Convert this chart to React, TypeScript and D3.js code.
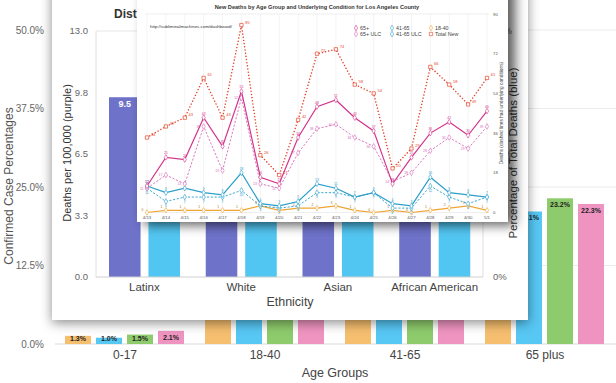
import React from "react";
import * as d3 from "d3";

// ---------- Background chart: confirmed case percentages by age ----------
const ageGroups = ["0-17", "18-40", "41-65", "65 plus"];
const ageKeys = ["a", "b", "c", "d"];
const ageSeriesA = [1.3, 36.0, 42.5, 20.2];
const ageSeriesB = [1.0, 37.4, 40.5, 21.1];
const ageSeriesC = [1.5, 33.6, 41.7, 23.2];
const ageSeriesD = [2.1, 35.2, 40.4, 22.3];
const ageTicks = [0, 12.5, 25, 37.5, 50];

// ---------- Middle card: deaths by ethnicity ----------
const ethnicities = ["Latinx", "White", "Asian", "African American"];
const deathsPer100k = [9.5, 5.1, 5.6, 10.9];
const pctTotalDeaths = [38, 28, 17, 13];
const ethTicks = [0, 3.25, 6.5, 9.75, 13];
const ethTickLabels = ["0.0", "3.3", "6.5", "9.8", "13.0"];
const pctTicks = [0, 25, 50];

// ---------- Top card: new deaths line chart ----------
const dates = ["4/13", "4/14", "4/15", "4/16", "4/17", "4/18", "4/19", "4/20", "4/21", "4/22", "4/23", "4/24", "4/25", "4/26", "4/27", "4/28", "4/29", "4/30", "5/1"];
const totalNew = [34, 39, 43, 61, 43, 85, 26, 17, 42, 72, 74, 58, 54, 20, 29, 66, 58, 49, 61];
const over65 = [12, 25, 24, 43, 30, 55, 16, 13, 34, 48, 51, 43, 37, 13, 25, 36, 41, 35, 46];
const over65ULC = [11, 17, 13, 39, 19, 52, 13, 11, 27, 38, 40, 34, 30, 14, 18, 28, 34, 29, 39];
const age41to65 = [12, 9, 11, 9, 8, 18, 4, 3, 5, 13, 11, 7, 9, 4, 3, 16, 9, 8, 7];
const age41to65ULC = [11, 5, 7, 7, 7, 10, 3, 2, 3, 9, 9, 7, 9, 2, 2, 12, 7, 4, 7];
const age18to40 = [0, 1, 1, 1, 1, 1, 3, 1, 2, 2, 3, 1, 0, 1, 0, 1, 2, 3, 1];
const lineTicks = [0, 18, 36, 54, 72, 90];

const FONT = "'Liberation Sans', Arial, sans-serif";

export default function App() {
  const x0 = d3.scaleBand<string>().domain(ageGroups).range([55, 615]);
  const x1 = d3.scaleBand<string>().domain(ageKeys).range([0, 119]).paddingInner(0.161);
  const yAge = d3.scaleLinear().domain([0, 50]).range([344, 30]);
  const ageSeries = [ageSeriesA, ageSeriesB, ageSeriesC, ageSeriesD];
  const ageColors = ["#f6be6f", "#57c7f4", "#8ecb6c", "#ef94c0"];

  const xe = d3.scaleBand<string>().domain(ethnicities).range([96, 483]);
  const xe1 = d3.scaleBand<string>().domain(["p", "b"]).range([13, 84]).paddingInner(0.2);
  const ye = d3.scaleLinear().domain([0, 13]).range([277, 31]);
  const yp = d3.scaleLinear().domain([0, 50]).range([277, 31]);

  const xl = d3.scalePoint<string>().domain(dates).range([147, 487]);
  const yl = d3.scaleLinear().domain([0, 90]).range([212.5, 14]);
  const line = d3.line<number>().x((_, i) => xl(dates[i]) as number).y((v) => yl(v));

  const series = [
    { name: "18-40", data: age18to40, color: "#f0a534", dash: "", lab: "#a07020", dx: -3.5, dy: -2, anchor: "end" },
    { name: "41-65 ULC", data: age41to65ULC, color: "#2b9fcb", dash: "2.2,1.6", lab: "#2b9fcb", dx: 0, dy: 5.5, anchor: "middle" },
    { name: "41-65", data: age41to65, color: "#2b9fcb", dash: "", lab: "#2b9fcb", dx: 0, dy: -3, anchor: "middle" },
    { name: "65+ ULC", data: over65ULC, color: "#d66bb8", dash: "2.2,1.6", lab: "#d66bb8", dx: -3.5, dy: 1.3, anchor: "end" },
    { name: "65+", data: over65, color: "#d4358c", dash: "", lab: "#d4358c", dx: 0, dy: -3, anchor: "middle" },
  ];
  const diamond = d3.symbol().type(d3.symbolDiamond).size(9)() as string;
  const square = d3.symbol().type(d3.symbolSquare).size(11)() as string;

  const legend = [
    { name: "65+", color: "#d4358c", sym: diamond, col: 0, row: 0 },
    { name: "65+ ULC", color: "#d66bb8", sym: diamond, col: 0, row: 1 },
    { name: "41-65", color: "#2b9fcb", sym: diamond, col: 1, row: 0 },
    { name: "41-65 ULC", color: "#2b9fcb", sym: diamond, col: 1, row: 1 },
    { name: "18-40", color: "#f0a534", sym: diamond, col: 2, row: 0 },
    { name: "Total New", color: "#e5432b", sym: square, col: 2, row: 1 },
  ];
  const legendX = [356, 392, 431];

  return (
    <svg width={616} height={383} style={{ position: "absolute", left: 0, top: 0, background: "#fff", fontFamily: FONT }}>
      <defs>
        <filter id="shMid" x="-10%" y="-10%" width="125%" height="125%">
          <feDropShadow dx="0" dy="3" stdDeviation="6" floodColor="#000" floodOpacity="0.45" />
        </filter>
        <filter id="shTop" x="-10%" y="-10%" width="125%" height="125%">
          <feDropShadow dx="7" dy="3" stdDeviation="6" floodColor="#000" floodOpacity="0.65" />
        </filter>
      </defs>

      {/* ===== Background chart ===== */}
      {ageTicks.map((t) => (
        <g key={"at" + t}>
          <line x1={55} x2={616} y1={yAge(t)} y2={yAge(t)} stroke={t === 0 ? "#d9d9d9" : "#ebebeb"} strokeWidth={1} />
          <text x={44} y={yAge(t) + 3.5} textAnchor="end" fontSize={10} fill="#666">{t.toFixed(1) + "%"}</text>
        </g>
      ))}
      <text transform={`translate(13,${186}) rotate(-90)`} textAnchor="middle" fontSize={12} fill="#555">Confirmed Case Percentages</text>
      {ageGroups.map((g, gi) => (
        <g key={g}>
          {ageKeys.map((k, ki) => {
            const v = ageSeries[ki][gi];
            const x = (x0(g) as number) + 10 + (x1(k) as number);
            const top = yAge(v);
            return (
              <g key={k}>
                <rect x={x} y={top} width={x1.bandwidth()} height={344 - top} fill={ageColors[ki]} />
                <text x={x + x1.bandwidth() / 2} y={Math.min(top + 9, 341)} textAnchor="middle" fontSize={7} fontWeight="bold" fill="#222">{v.toFixed(1) + "%"}</text>
              </g>
            );
          })}
          <text x={(x0(g) as number) + 70} y={359} textAnchor="middle" fontSize={12} fill="#444">{g}</text>
        </g>
      ))}
      <text x={335} y={377} textAnchor="middle" fontSize={12.5} fill="#444">Age Groups</text>

      {/* ===== Middle card ===== */}
      <rect x={52} y={-20} width={476} height={340} fill="#fff" filter="url(#shMid)" />
      <text x={114} y={18} fontSize={12} fontWeight="bold" fill="#333">Distribution of Deaths by Ethnicity</text>
      <line x1={96} x2={483} y1={ye(13)} y2={ye(13)} stroke="#e6e6e6" />
      <line x1={96} x2={96} y1={ye(13)} y2={ye(0)} stroke="#e0e0e0" />
      <line x1={483} x2={483} y1={ye(13)} y2={ye(0)} stroke="#e0e0e0" />
      {ethTicks.map((t, i) => (
        <text key={"et" + i} x={88} y={ye(t) + 3} textAnchor="end" fontSize={9.5} fill="#666">{ethTickLabels[i]}</text>
      ))}
      {pctTicks.map((t) => (
        <text key={"pt" + t} x={493} y={yp(t) + 3} textAnchor="start" fontSize={9.5} fill="#666">{t + "%"}</text>
      ))}
      <text transform={`translate(71,${153}) rotate(-90)`} textAnchor="middle" fontSize={11} fill="#333">Deaths per 100,000 (purple)</text>
      <text transform={`translate(517,${153}) rotate(-90)`} textAnchor="middle" fontSize={11.5} fill="#333">Percentage of Total Deaths (blue)</text>
      {ethnicities.map((e, i) => {
        const gx = xe(e) as number;
        const px = gx + (xe1("p") as number);
        const bx = gx + (xe1("b") as number);
        return (
          <g key={e}>
            <rect x={px} y={ye(deathsPer100k[i])} width={xe1.bandwidth()} height={277 - ye(deathsPer100k[i])} fill="#6e72c9" />
            <text x={px + xe1.bandwidth() / 2} y={ye(deathsPer100k[i]) + 10} textAnchor="middle" fontSize={9} fontWeight="bold" fill="#fff">{deathsPer100k[i].toFixed(1)}</text>
            <rect x={bx} y={yp(pctTotalDeaths[i])} width={xe1.bandwidth()} height={277 - yp(pctTotalDeaths[i])} fill="#52c6f2" />
            <text x={gx + xe.bandwidth() / 2} y={291} textAnchor="middle" fontSize={11.5} fill="#444">{e}</text>
          </g>
        );
      })}
      <line x1={96} x2={483} y1={277} y2={277} stroke="#cfcfcf" />
      <text x={290} y={306} textAnchor="middle" fontSize={12.5} fill="#444">Ethnicity</text>

      {/* ===== Top card ===== */}
      <rect x={137} y={-20} width={371} height={242} fill="#fff" filter="url(#shTop)" />
      <text x={317} y={9} textAnchor="middle" fontSize={5.6} fontWeight="bold" fill="#333">New Deaths by Age Group and Underlying Condition for Los Angeles County</text>
      {dates.map((d) => (
        <g key={d}>
          <line x1={xl(d)} x2={xl(d)} y1={14} y2={212.5} stroke="#ececec" strokeWidth={0.6} />
          <text x={xl(d)} y={219} textAnchor="middle" fontSize={4.3} fill="#555">{d}</text>
        </g>
      ))}
      <line x1={145} x2={489} y1={14} y2={14} stroke="#e2e2e2" strokeWidth={0.6} />
      <line x1={145} x2={489} y1={212.5} y2={212.5} stroke="#e2e2e2" strokeWidth={0.6} />
      {lineTicks.map((t) => (
        <text key={"lt" + t} x={493} y={yl(t) + 1.5} fontSize={4.3} fill="#555">{t}</text>
      ))}
      <text transform={`translate(503,${113}) rotate(-90)`} textAnchor="middle" fontSize={4.8} fill="#444">Deaths (dashed lines had underlying conditions)</text>
      <text x={150} y={28} fontSize={4.4} fill="#333">http://subliminalmachines.com/dashboard/</text>

      {series.map((s) => (
        <g key={s.name}>
          <path d={line(s.data) as string} fill="none" stroke={s.color} strokeWidth={s.dash ? 0.9 : 1.2} strokeDasharray={s.dash || undefined} />
          {s.data.map((v, i) => (
            <g key={i}>
              <path d={diamond} transform={`translate(${xl(dates[i])},${yl(v)})`} fill="#fff" stroke={s.color} strokeWidth={0.6} />
              <text x={(xl(dates[i]) as number) + s.dx} y={yl(v) + s.dy} textAnchor={s.anchor} fontSize={3.4} fill={s.lab}>{v}</text>
            </g>
          ))}
        </g>
      ))}
      <path d={line(totalNew) as string} fill="none" stroke="#e5432b" strokeWidth={1.5} strokeDasharray="0.01,3.2" strokeLinecap="round" />
      {totalNew.map((v, i) => (
        <g key={"tn" + i}>
          <path d={square} transform={`translate(${xl(dates[i])},${yl(v)})`} fill="#fff" stroke="#e5432b" strokeWidth={0.7} />
          <text x={(xl(dates[i]) as number) + 6} y={yl(v) - 1.5} textAnchor="middle" fontSize={4} fill="#e5432b">{v}</text>
        </g>
      ))}

      {legend.map((l) => (
        <g key={l.name} transform={`translate(${legendX[l.col]},${28 + l.row * 6})`}>
          <path d={l.sym} fill="#fff" stroke={l.color} strokeWidth={0.6} />
          <text x={4} y={1.8} fontSize={5.3} fill="#444">{l.name}</text>
        </g>
      ))}
    </svg>
  );
}
